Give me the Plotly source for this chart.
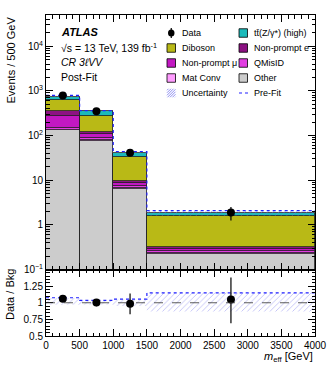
import numpy as np
import plotly.graph_objects as go

# === DATA ===
bin_edges = [0, 500, 1000, 1500, 4000]

other = [130, 77, 6.45, 0.225]
mat_conv = [5, 4, 0.4, 0.012]
qmisid = [12, 6, 0.5, 0.018]
nonprompt_mu = [122, 21, 1.2, 0.037]
nonprompt_e = [93, 15, 1.25, 0.032]
diboson = [258, 146, 22.7, 1.226]
ttz_high = [120, 80, 9.2, 0.26]

data = [785, 350, 41, 1.9]
data_err_up = [28, 19, 6.5, 0.6]
data_err_down = [28, 19, 6.5, 0.65]

# relative post-fit uncertainty band and pre-fit / post-fit
unc_lo = [0.97, 0.975, 0.95, 0.87]
unc_hi = [1.07, 1.035, 1.05, 1.15]
prefit_ratio = [1.075, 1.035, 1.055, 1.15]

main_ticks = [0.1, 1, 10, 100, 1000, 10000]
main_ticktext = ["10<sup>\u22121</sup>", "1", "10", "10<sup>2</sup>", "10<sup>3</sup>", "10<sup>4</sup>"]
ratio_ticks = [0.5, 0.75, 1, 1.25]
ratio_ticktext = ["0.5", "0.75", "1", "1.25"]

# stack order: bottom -> top
components = [
    ("Other", other, "#cccccc"),
    ("Mat Conv", mat_conv, "#ff9cff"),
    ("QMisID", qmisid, "#e23ee2"),
    ("Non-prompt \u03bc", nonprompt_mu, "#c218c2"),
    ("Non-prompt e", nonprompt_e, "#8c1282"),
    ("Diboson", diboson, "#b9b916"),
    ("tt\u0304(Z/\u03b3*) (high)", ttz_high, "#1cbaba"),
]

legend_rows = [
    ("Data", "data", "tt\u0304(Z/\u03b3*) (high)", "#1cbaba"),
    ("Diboson", "#b9b916", "Non-prompt e", "#8c1282"),
    ("Non-prompt \u03bc", "#c218c2", "QMisID", "#e23ee2"),
    ("Mat Conv", "#ff9cff", "Other", "#cccccc"),
    ("Uncertainty", "hatch", "Pre-Fit", "prefit"),
]

FONT = "Liberation Sans, Arial, sans-serif"
HATCH = "#7474ec"

edges = np.array(bin_edges, dtype=float)
centers = 0.5 * (edges[:-1] + edges[1:])
widths = np.diff(edges)
total = np.sum([np.array(c[1]) for c in components], axis=0)


def step(vals):
    xs, ys = [], []
    for i, v in enumerate(vals):
        xs += [edges[i], edges[i + 1]]
        ys += [v, v]
    return xs, ys


fig = go.Figure()

# === MAIN PANEL ===
for name, vals, col in components:
    fig.add_trace(go.Bar(
        x=centers, y=vals, width=widths, name=name,
        marker=dict(color=col, line=dict(color="#222222", width=0.8)),
        showlegend=False, xaxis="x", yaxis="y",
    ))

hatch = dict(shape="/", fgcolor=HATCH, bgcolor="rgba(0,0,0,0)", size=4, solidity=0.2)

bx, band_top = step(total * np.array(unc_hi))
_, band_bot = step(total * np.array(unc_lo))
fig.add_trace(go.Scatter(
    x=bx + bx[::-1], y=band_top + band_bot[::-1], fill="toself", mode="lines",
    line=dict(width=0), fillcolor="rgba(0,0,0,0)", fillpattern=hatch,
    showlegend=False, hoverinfo="skip", xaxis="x", yaxis="y",
))

px_, py_ = step(total * np.array(prefit_ratio))
fig.add_trace(go.Scatter(
    x=px_, y=py_, mode="lines", line=dict(color="#2020ff", width=1.2, dash="dot"),
    showlegend=False, xaxis="x", yaxis="y",
))

fig.add_trace(go.Scatter(
    x=centers, y=data, mode="markers", marker=dict(color="black", size=8),
    error_y=dict(type="data", symmetric=False, array=data_err_up, arrayminus=data_err_down,
                 color="black", thickness=1.2, width=0),
    showlegend=False, xaxis="x", yaxis="y",
))

# === RATIO PANEL ===
_, rb_top = step(unc_hi)
_, rb_bot = step(unc_lo)
fig.add_trace(go.Scatter(
    x=bx + bx[::-1], y=rb_top + rb_bot[::-1], fill="toself", mode="lines",
    line=dict(width=0), fillcolor="rgba(0,0,0,0)", fillpattern=hatch,
    showlegend=False, hoverinfo="skip", xaxis="x2", yaxis="y2",
))
_, rp = step(prefit_ratio)
fig.add_trace(go.Scatter(
    x=bx, y=rp, mode="lines", line=dict(color="#2020ff", width=1.2, dash="dot"),
    showlegend=False, xaxis="x2", yaxis="y2",
))
fig.add_shape(type="line", xref="x2", yref="y2", x0=edges[0], x1=edges[-1], y0=1, y1=1,
              line=dict(color="#333333", width=0.8, dash="dash"))

ratio = np.array(data) / total
fig.add_trace(go.Scatter(
    x=centers, y=ratio, mode="markers", marker=dict(color="black", size=8),
    error_y=dict(type="data", symmetric=False, array=np.array(data_err_up) / total,
                 arrayminus=np.array(data_err_down) / total,
                 color="black", thickness=1.2, width=0),
    showlegend=False, xaxis="x2", yaxis="y2",
))

# === AXES ===
L, R, T, B = 46, 315, 15, 336
split = (B - 269.5) / (B - T)


def X(p):
    return (p - L) / (R - L)


def Y(p):
    return (B - p) / (B - T)


axis_common = dict(showline=True, linecolor="black", linewidth=1, mirror="allticks",
                   ticks="inside", ticklen=7, tickcolor="black", showgrid=False, zeroline=False,
                   automargin=False, tickfont=dict(size=10, color="black", family=FONT))
fig.update_layout(
    xaxis=dict(**axis_common, domain=[0, 1], anchor="y", range=[0, 4000], dtick=500,
               showticklabels=False, matches="x2",
               minor=dict(ticks="inside", ticklen=3.5, dtick=100, tickcolor="black")),
    xaxis2=dict(**axis_common, domain=[0, 1], anchor="y2", range=[0, 4000], dtick=500,
                minor=dict(ticks="inside", ticklen=3.5, dtick=100, tickcolor="black")),
    yaxis=dict(**axis_common, domain=[split, 1], anchor="x", type="log", range=[-1, 4.7],
               tickmode="array", tickvals=main_ticks, ticktext=main_ticktext,
               minor=dict(ticks="inside", ticklen=3.5, tickcolor="black", tickmode="array",
                          tickvals=[m * 10.0 ** k for k in range(-1, 5) for m in range(2, 10)])),
    yaxis2=dict(**axis_common, domain=[0, split], anchor="x2", range=[0.5, 1.5],
                tickmode="array", tickvals=ratio_ticks, ticktext=ratio_ticktext,
                minor=dict(ticks="inside", ticklen=3.5, tickcolor="black", dtick=0.05)),
    barmode="stack", bargap=0,
    width=332, height=375,
    margin=dict(l=L, r=332 - R, t=T, b=375 - B),
    plot_bgcolor="white", paper_bgcolor="white",
    font=dict(family=FONT, size=11, color="black"),
    showlegend=False,
)

# === LABELS ===
ann = [
    ("<b><i>ATLAS</i></b>", 32, 11),
    ("\u221as = 13 TeV, 139 fb<sup>-1</sup>", 47, 10.5),
    ("<i>CR 3\u2113VV</i>", 62, 10.5),
    ("Post-Fit", 77, 10.5),
]
for text, yp, size in ann:
    fig.add_annotation(text=text, x=X(59), y=Y(yp), xref="paper", yref="paper",
                       xanchor="left", yanchor="middle", showarrow=False,
                       font=dict(size=size, family=FONT, color="black"))

fig.add_annotation(text="Events / 500 GeV", x=X(10), y=1, xref="paper", yref="paper",
                   textangle=-90, xanchor="center", yanchor="top", showarrow=False,
                   font=dict(size=11, family=FONT))
fig.add_annotation(text="Data / Bkg", x=X(10), y=Y(295), xref="paper", yref="paper",
                   textangle=-90, xanchor="center", yanchor="middle", showarrow=False,
                   font=dict(size=11, family=FONT))
fig.add_annotation(text="<i>m</i><sub>eff</sub> [GeV]", x=1, y=Y(357), xref="paper", yref="paper",
                   xanchor="right", yanchor="middle", showarrow=False,
                   font=dict(size=11, family=FONT))

# === LEGEND (drawn by hand, two columns) ===
col_box = [167, 239]
col_text = [180, 252]
s = 8.5
for r, row in enumerate(legend_rows):
    yc = 33 + 15 * r
    for c in range(2):
        label, kind = row[2 * c], row[2 * c + 1]
        x0, y0 = col_box[c], yc - s / 2
        if kind == "data":
            fig.add_shape(type="line", xref="paper", yref="paper", x0=X(x0 + s / 2), x1=X(x0 + s / 2),
                          y0=Y(yc - 5), y1=Y(yc + 5), line=dict(color="black", width=1.2))
            fig.add_shape(type="circle", xref="paper", yref="paper", x0=X(x0 + 1), x1=X(x0 + s - 1),
                          y0=Y(yc + 3.5), y1=Y(yc - 3.5), fillcolor="black", line=dict(width=0))
        elif kind == "hatch":
            path = ""
            for cc in np.arange(1.5, 2 * s, 2.5):
                u0, u1 = max(0, cc - s), min(s, cc)
                path += f"M{X(x0 + u0)},{Y(y0 + cc - u0)} L{X(x0 + u1)},{Y(y0 + cc - u1)} "
            fig.add_shape(type="path", xref="paper", yref="paper", path=path,
                          line=dict(color=HATCH, width=0.8))
        elif kind == "prefit":
            fig.add_shape(type="line", xref="paper", yref="paper", x0=X(x0), x1=X(x0 + 10),
                          y0=Y(yc), y1=Y(yc), line=dict(color="#2020ff", width=1.2, dash="dot"))
        else:
            fig.add_shape(type="rect", xref="paper", yref="paper", x0=X(x0), x1=X(x0 + s),
                          y0=Y(y0 + s), y1=Y(y0), fillcolor=kind, line=dict(color="black", width=0.8))
        fig.add_annotation(text=label, x=X(col_text[c]), y=Y(yc), xref="paper", yref="paper",
                           xanchor="left", yanchor="middle", showarrow=False,
                           font=dict(size=9, family=FONT, color="black"))

# page body has a default margin; drop it so the figure sits at the window corner
fig.write_html("out.html", config={"displayModeBar": False},
               post_script="document.body.style.margin='0';")
